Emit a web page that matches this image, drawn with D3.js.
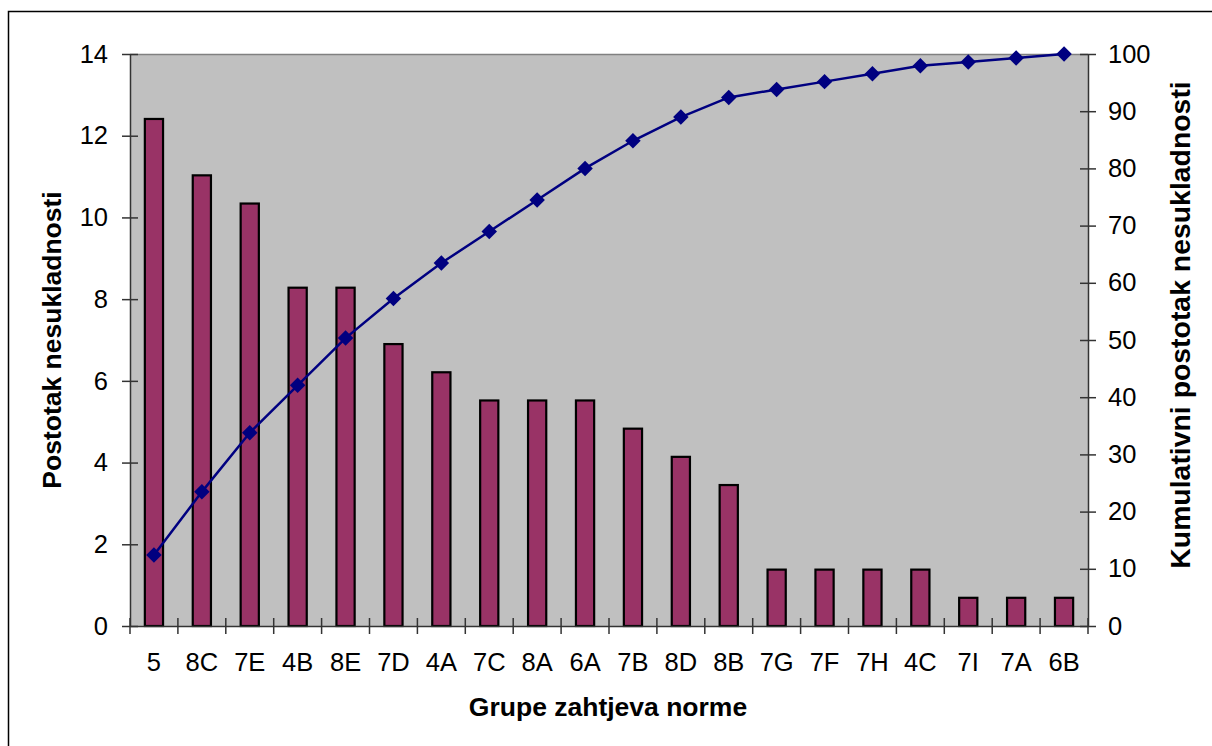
<!DOCTYPE html>
<html><head><meta charset="utf-8">
<script src="https://cdn.jsdelivr.net/npm/d3@7"></script>
<style>body{margin:0;background:#fff;}svg{display:block;font-family:"Liberation Sans",Arial,sans-serif;}</style>
</head><body><svg id="c" width="1212" height="746"></svg>
<script>
const categories = ["5","8C","7E","4B","8E","7D","4A","7C","8A","6A","7B","8D","8B","7G","7F","7H","4C","7I","7A","6B"];
const percentValues = [12.41,11.03,10.34,8.28,8.28,6.90,6.21,5.52,5.52,5.52,4.83,4.14,3.45,1.38,1.38,1.38,1.38,0.69,0.69,0.69];
const cumulativeValues = [12.41,23.45,33.79,42.07,50.34,57.24,63.45,68.97,74.48,80.00,84.83,88.97,92.41,93.79,95.17,96.55,97.93,98.62,99.31,100.00];
const leftTicks = [0,2,4,6,8,10,12,14];
const rightTicks = [0,10,20,30,40,50,60,70,80,90,100];
const xTitle = "Grupe zahtjeva norme";
const yLeftTitle = "Postotak nesukladnosti";
const yRightTitle = "Kumulativni postotak nesukladnosti";

const svg = d3.select("#c");
const L = 130, R = 1088, T = 54, B = 626;

// outer border
svg.append("rect").attr("x",8.5).attr("y",11.5).attr("width",1220).attr("height",760)
  .attr("fill","#fff").attr("stroke","#000").attr("stroke-width",1.5);

const x = d3.scaleBand().domain(categories).range([L,R]).padding(0);
const yL = d3.scaleLinear().domain([0,14]).range([B,T]);
const yR = d3.scaleLinear().domain([0,100]).range([B,T]);

svg.append("rect").attr("x",L).attr("y",T).attr("width",R-L).attr("height",B-T).attr("fill","#C0C0C0");
svg.append("line").attr("x1",L).attr("x2",R).attr("y1",T+0.5).attr("y2",T+0.5).attr("stroke","#808080").attr("stroke-width",1.5);

// bars
const bw = x.bandwidth()*0.38;
svg.append("g").selectAll("rect").data(percentValues).join("rect")
  .attr("x",(d,i)=>x(categories[i])+x.bandwidth()/2-bw/2)
  .attr("y",d=>yL(d)).attr("width",bw).attr("height",d=>yL(0)-yL(d))
  .attr("fill","#993366").attr("stroke","#000").attr("stroke-width",2.2);

// axes
const tickSize = 8;
const fs = 25.5;
const gL = svg.append("g").attr("transform",`translate(${L},0)`)
  .call(d3.axisLeft(yL).tickValues(leftTicks).tickSize(0).tickPadding(22));
gL.select(".domain").attr("stroke","#333").attr("stroke-width",1.5);
gL.selectAll(".tick").append("line").attr("x1",-tickSize).attr("x2",tickSize).attr("stroke","#333").attr("stroke-width",1.5);
gL.selectAll("text").attr("font-size",fs).attr("fill","#000").attr("font-family","Liberation Sans, Arial");

const gR = svg.append("g").attr("transform",`translate(${R},0)`)
  .call(d3.axisRight(yR).tickValues(rightTicks).tickSize(0).tickPadding(20));
gR.select(".domain").attr("stroke","#333").attr("stroke-width",1.5);
gR.selectAll(".tick").append("line").attr("x1",-tickSize).attr("x2",tickSize).attr("stroke","#333").attr("stroke-width",1.5);
gR.selectAll("text").attr("font-size",fs).attr("fill","#000").attr("font-family","Liberation Sans, Arial");

const gX = svg.append("g").attr("transform",`translate(0,${B})`)
  .call(d3.axisBottom(x).tickSize(0).tickPadding(27));
gX.select(".domain").attr("stroke","#333").attr("stroke-width",1.5);
gX.selectAll("text").attr("font-size",fs).attr("fill","#000").attr("font-family","Liberation Sans, Arial");
const bounds = categories.map(c=>x(c)).concat([R]);
gX.append("g").selectAll("line").data(bounds).join("line")
  .attr("x1",d=>d).attr("x2",d=>d).attr("y1",-tickSize).attr("y2",tickSize)
  .attr("stroke","#333").attr("stroke-width",1.5);

// cumulative line
const cx = (d,i)=>x(categories[i])+x.bandwidth()/2;
svg.append("path").datum(cumulativeValues)
  .attr("d",d3.line().x(cx).y(d=>yR(d)))
  .attr("fill","none").attr("stroke","#000080").attr("stroke-width",2.5);
const diamond = d3.symbol(d3.symbolSquare, 120);
svg.append("g").selectAll("path").data(cumulativeValues).join("path")
  .attr("d",diamond)
  .attr("transform",(d,i)=>`translate(${cx(d,i)},${yR(d)}) rotate(45)`)
  .attr("fill","#000080");

// titles
svg.append("text").attr("x",608).attr("y",716).attr("text-anchor","middle")
  .attr("font-size",26.5).attr("font-weight","bold").text(xTitle);
svg.append("text").attr("transform","translate(61,340) rotate(-90)").attr("text-anchor","middle")
  .attr("font-size",26.5).attr("font-weight","bold").text(yLeftTitle);
svg.append("text").attr("transform","translate(1190,325) rotate(-90)").attr("text-anchor","middle")
  .attr("font-size",28.4).attr("font-weight","bold").text(yRightTitle);
</script></body></html>
